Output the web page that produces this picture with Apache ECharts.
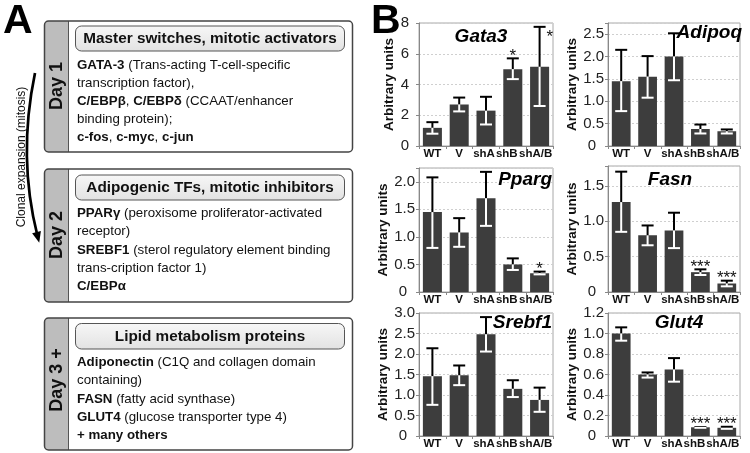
<!DOCTYPE html>
<html><head><meta charset="utf-8">
<script src="https://cdn.jsdelivr.net/npm/echarts@6.0.0/dist/echarts.min.js"></script>
<style>html,body{margin:0;padding:0;background:#fff}#c{width:750px;height:453px}</style>
</head><body><div id="c"></div><script>
// ---------- DATA ----------
const categories = ['WT', 'V', 'shA', 'shB', 'shA/B'];

const gata3Mean  = [1.18, 2.70, 2.30, 5.00, 5.15];
const gata3Low   = [0.80, 2.25, 1.40, 4.35, 2.60];
const gata3High  = [1.55, 3.15, 3.20, 5.70, 7.75];
const gata3Stars = ['', '', '', '*', '*'];

const adipoqMean  = [1.45, 1.55, 2.00, 0.38, 0.33];
const adipoqLow   = [0.78, 1.08, 1.47, 0.28, 0.28];
const adipoqHigh  = [2.15, 2.01, 2.52, 0.48, 0.37];
const adipoqStars = ['', '', '', '', ''];

const ppargMean  = [1.45, 1.08, 1.70, 0.50, 0.34];
const ppargLow   = [0.80, 0.82, 1.20, 0.40, 0.32];
const ppargHigh  = [2.08, 1.34, 2.18, 0.61, 0.37];
const ppargStars = ['', '', '', '', '*'];

const fasnMean  = [1.27, 0.80, 0.87, 0.28, 0.12];
const fasnLow   = [0.85, 0.66, 0.62, 0.24, 0.08];
const fasnHigh  = [1.70, 0.94, 1.12, 0.32, 0.16];
const fasnStars = ['', '', '', '***', '***'];

const srebf1Mean  = [1.46, 1.48, 2.48, 1.15, 0.88];
const srebf1Low   = [0.76, 1.24, 2.06, 0.95, 0.59];
const srebf1High  = [2.14, 1.72, 2.90, 1.36, 1.18];
const srebf1Stars = ['', '', '', '', ''];

const glut4Mean  = [1.00, 0.60, 0.65, 0.085, 0.08];
const glut4Low   = [0.93, 0.57, 0.53, 0.080, 0.07];
const glut4High  = [1.06, 0.62, 0.76, 0.088, 0.09];
const glut4Stars = ['', '', '', '***', '***'];

const yAxisTitle = 'Arbitrary units';

const boxTitles = ['Master switches, mitotic activators', 'Adipogenic TFs, mitotic inhibitors', 'Lipid metabolism proteins'];
const dayLabels = ['Day 1', 'Day 2', 'Day 3 +'];
const boxLines = [
  ['{b|GATA-3} (Trans-acting T-cell-specific', 'transcription factor),', '{b|C/EBPβ}, {b|C/EBPδ} (CCAAT/enhancer', 'binding protein);', '{b|c-fos}, {b|c-myc}, {b|c-jun}'],
  ['{b|PPARγ} (peroxisome proliferator-activated', 'receptor)', '{b|SREBF1} (sterol regulatory element binding', 'trans-cription factor 1)', '{b|C/EBPα}'],
  ['{b|Adiponectin} (C1Q and collagen domain', 'containing)', '{b|FASN} (fatty acid synthase)', '{b|GLUT4} (glucose transporter type 4)', '{b|+ many others}']
];
const arrowText = 'Clonal expansion (mitosis)';

// ---------- LAYOUT ----------
const FONT = 'Liberation Sans, Arial, Helvetica, sans-serif';
const panels = [
  {name: 'Gata3',  mean: gata3Mean,  low: gata3Low,  high: gata3High,  stars: gata3Stars,  max: 8,    interval: 2,   dec: 0,
   grid: {left: 419, top: 23,  width: 134, height: 123}, title: [481, 37, 'center'], nameGap: 10, labelMargin: 10},
  {name: 'Adipoq', mean: adipoqMean, low: adipoqLow, high: adipoqHigh, stars: adipoqStars, max: 2.75, interval: 0.5, dec: 1,
   grid: {left: 608, top: 23,  width: 132, height: 123}, title: [742, 33, 'right'], nameGap: 20, labelMargin: 4},
  {name: 'Pparg',  mean: ppargMean,  low: ppargLow,  high: ppargHigh,  stars: ppargStars,  max: 2.25, interval: 0.5, dec: 1,
   grid: {left: 419, top: 168, width: 134, height: 124}, title: [552, 180, 'right'], nameGap: 19, labelMargin: 4},
  {name: 'Fasn',   mean: fasnMean,   low: fasnLow,   high: fasnHigh,   stars: fasnStars,   max: 1.78, interval: 0.5, dec: 1,
   grid: {left: 608, top: 166, width: 132, height: 126}, title: [670, 180, 'center'], nameGap: 18, labelMargin: 4},
  {name: 'Srebf1', mean: srebf1Mean, low: srebf1Low, high: srebf1High, stars: srebf1Stars, max: 3,    interval: 0.5, dec: 1,
   grid: {left: 419, top: 313, width: 134, height: 123}, title: [552, 323, 'right'], nameGap: 18.5, labelMargin: 4},
  {name: 'Glut4',  mean: glut4Mean,  low: glut4Low,  high: glut4High,  stars: glut4Stars,  max: 1.2,  interval: 0.2, dec: 1,
   grid: {left: 608, top: 313, width: 132, height: 123}, title: [679, 323, 'center'], nameGap: 18, labelMargin: 4}
];

const grids = [], xAxes = [], yAxes = [], series = [], graphics = [];
const XL = {fontFamily: FONT, fontSize: 11.5, fontWeight: 'bold', color: '#111'};

panels.forEach((p, k) => {
  grids.push(Object.assign({show: true, borderColor: '#a8a8a8', borderWidth: 1, backgroundColor: 'transparent'}, p.grid));
  xAxes.push({
    type: 'category', gridIndex: k, data: categories,
    axisLine: {lineStyle: {color: '#888'}},
    axisTick: {show: true, length: 3, lineStyle: {color: '#888'}},
    axisLabel: {
      interval: 0, margin: 2, color: '#111', fontFamily: FONT, fontSize: 11.5, fontWeight: 'bold',
      formatter: v => v === 'shA' ? '{a|shA}' : (v === 'shB' ? '{l|shB}' : (v === 'shA/B' ? '{r|shA/B}' : v)),
      rich: {
        a: Object.assign({padding: [0, 4, 0, 0]}, XL),
        l: Object.assign({padding: [0, 12, 0, 0]}, XL),
        r: Object.assign({padding: [0, 8, 0, 0]}, XL)
      }
    }
  });
  yAxes.push({
    type: 'value', gridIndex: k, min: 0, max: p.max, interval: p.interval,
    name: yAxisTitle, nameLocation: 'middle', nameGap: p.nameGap, nameRotate: 90,
    nameTextStyle: {fontFamily: FONT, fontSize: 13.5, fontWeight: 'bold', color: '#111'},
    axisLine: {show: true, lineStyle: {color: '#888'}},
    axisTick: {show: true, length: 3, lineStyle: {color: '#888'}},
    splitLine: {show: true, lineStyle: {color: '#cfcfcf', type: [2, 2], width: 1}},
    axisLabel: {
      margin: p.labelMargin, color: '#222', fontFamily: FONT, fontSize: 15,
      formatter: v => {
        const r = v / p.interval;
        if (Math.abs(r - Math.round(r)) > 1e-6) return '';
        if (Math.abs(v) < 1e-9) return p.dec ? '{z|0}' : '0';
        return v.toFixed(p.dec);
      },
      rich: {z: {padding: [0, 8, 0, 0], fontFamily: FONT, fontSize: 15, color: '#222'}}
    }
  });
  series.push({
    type: 'bar', xAxisIndex: k, yAxisIndex: k, data: p.mean, barWidth: '71%',
    itemStyle: {color: '#3d3d3d'}, silent: true
  });
  const errData = categories.map((c, i) => [i, p.low[i], p.high[i], p.mean[i]]);
  series.push({
    type: 'custom', xAxisIndex: k, yAxisIndex: k, data: errData, silent: true, z: 10,
    encode: {x: 0, y: [1, 2, 3]},
    renderItem: (params, api) => {
      const i = api.value(0), lo = api.value(1), hi = api.value(2), m = api.value(3);
      const pm = api.coord([i, m]), ph = api.coord([i, hi]), pl = api.coord([i, lo]);
      const hw = 6;
      const ch = [
        {type: 'line', shape: {x1: pm[0], y1: pm[1], x2: ph[0], y2: ph[1]}, style: {stroke: '#000', lineWidth: 2}},
        {type: 'line', shape: {x1: ph[0] - hw, y1: ph[1], x2: ph[0] + hw, y2: ph[1]}, style: {stroke: '#000', lineWidth: 2}},
        {type: 'line', shape: {x1: pm[0], y1: pm[1], x2: pl[0], y2: pl[1]}, style: {stroke: '#fff', lineWidth: 2}},
        {type: 'line', shape: {x1: pl[0] - hw, y1: pl[1], x2: pl[0] + hw, y2: pl[1]}, style: {stroke: '#fff', lineWidth: 2}}
      ];
      const s = p.stars[params.dataIndex];
      if (s) {
        const nearTop = hi > p.max * 0.9;
        ch.push({type: 'text', style: {
          text: s, x: nearTop ? ph[0] + hw + 1 : ph[0], y: nearTop ? ph[1] + 2 : ph[1] + 6,
          align: nearTop ? 'left' : 'center', verticalAlign: nearTop ? 'top' : 'bottom',
          font: '17px ' + FONT, fill: '#111'
        }});
      }
      return {type: 'group', children: ch};
    }
  });
  graphics.push({type: 'text', z: 20, style: {
    text: p.name, x: p.title[0], y: p.title[1], align: p.title[2], verticalAlign: 'middle',
    font: 'italic bold 19px ' + FONT, fill: '#000'
  }});
});

// ---------- PANEL A ----------
graphics.push({type: 'text', style: {text: 'A', x: 3, y: 22, verticalAlign: 'middle', font: 'bold 41px ' + FONT, fill: '#000'}});
graphics.push({type: 'text', style: {text: 'B', x: 371, y: 22, verticalAlign: 'middle', font: 'bold 41px ' + FONT, fill: '#000'}});

const boxes = [
  {top: 21, bottom: 152, tTop: 26, tBot: 51, line0: 65, day: 86},
  {top: 169, bottom: 302, tTop: 175, tBot: 200, line0: 213.5, day: 235},
  {top: 318, bottom: 450, tTop: 323.5, tBot: 349, line0: 362.5, day: 380}
];
const BX = 44.5, BW = 308, SW = 24;
boxes.forEach((b, k) => {
  const h = b.bottom - b.top;
  graphics.push({type: 'rect', shape: {x: BX, y: b.top, width: BW, height: h, r: 4}, style: {fill: '#fff', stroke: 'none'}});
  graphics.push({type: 'rect', shape: {x: BX, y: b.top, width: SW, height: h, r: [4, 0, 0, 4]}, style: {fill: '#bdbdbd', stroke: 'none'}});
  graphics.push({type: 'line', shape: {x1: BX + SW, y1: b.top, x2: BX + SW, y2: b.bottom}, style: {stroke: '#555', lineWidth: 1}});
  graphics.push({type: 'rect', shape: {x: BX, y: b.top, width: BW, height: h, r: 4}, style: {fill: 'none', stroke: '#444', lineWidth: 1.5}});
  graphics.push({type: 'rect', shape: {x: 75.5, y: b.tTop, width: 269, height: b.tBot - b.tTop, r: 6},
    style: {fill: {type: 'linear', x: 0, y: 0, x2: 0, y2: 1, colorStops: [{offset: 0, color: '#f7f7f7'}, {offset: 1, color: '#e2e2e2'}]}, stroke: '#555', lineWidth: 1}});
  graphics.push({type: 'text', style: {text: boxTitles[k], x: 210, y: (b.tTop + b.tBot) / 2 + 0.5, align: 'center', verticalAlign: 'middle',
    font: 'bold 15.3px ' + FONT, fill: '#111'}});
  graphics.push({type: 'text', rotation: Math.PI / 2, x: BX + SW / 2 + 0.5, y: b.day, style: {
    text: dayLabels[k], x: 0, y: 0, align: 'center', verticalAlign: 'middle', font: 'bold 18px ' + FONT, fill: '#111'}});
  boxLines[k].forEach((ln, j) => {
    graphics.push({type: 'text', style: {
      text: ln, x: 77, y: b.line0 + j * 18.2, verticalAlign: 'middle', font: '13.3px ' + FONT, fill: '#111',
      rich: {b: {fontWeight: 'bold', fontSize: 13.3, fontFamily: FONT, fill: '#111', color: '#111'}}
    }});
  });
});

// curved arrow
const P0 = [35, 73], C = [17.5, 157], P2 = [37.5, 236];
graphics.push({type: 'bezierCurve', shape: {x1: P0[0], y1: P0[1], cpx1: C[0], cpy1: C[1], x2: P2[0], y2: P2[1]},
  style: {stroke: '#000', lineWidth: 2.7, fill: 'none'}});
(function () {
  const dx = P2[0] - C[0], dy = P2[1] - C[1], L = Math.hypot(dx, dy), ux = dx / L, uy = dy / L;
  const tip = [P2[0] + ux * 7, P2[1] + uy * 7], base = [P2[0] - ux * 4, P2[1] - uy * 4], px = -uy * 4.5, py = ux * 4.5;
  graphics.push({type: 'polygon', shape: {points: [tip, [base[0] + px, base[1] + py], [base[0] - px, base[1] - py]]}, style: {fill: '#000'}});
})();
graphics.push({type: 'text', rotation: Math.PI / 2, x: 22, y: 157, style: {
  text: arrowText, x: 0, y: 0, align: 'center', verticalAlign: 'middle', font: '12px ' + FONT, fill: '#111'}});

const chart = echarts.init(document.getElementById('c'), null, {renderer: 'canvas'});
chart.setOption({
  animation: false, backgroundColor: '#fff',
  grid: grids, xAxis: xAxes, yAxis: yAxes, series: series, graphic: graphics
});
</script></body></html>
